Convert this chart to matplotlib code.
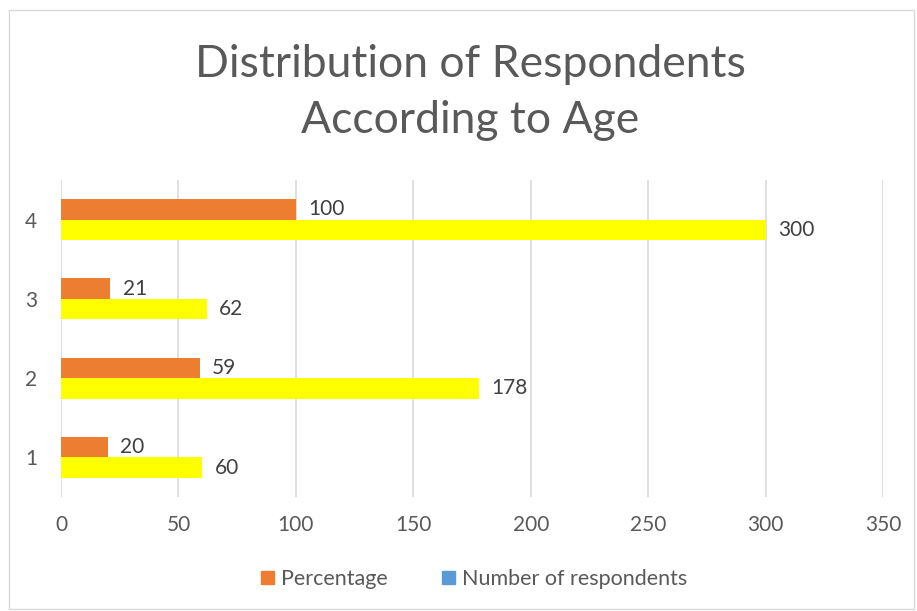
import numpy as np
import matplotlib.pyplot as plt
from matplotlib.patches import Patch, Rectangle

categories = ['1', '2', '3', '4']
percentage = [20, 59, 21, 100]
respondents = [60, 178, 62, 300]
xticks = [0, 50, 100, 150, 200, 250, 300, 350]

orange = '#ED7D31'
yellow = '#FFFF00'
blue = '#5B9BD5'
grey = '#595959'

plt.rcParams['font.family'] = ['Lato', 'DejaVu Sans']

fig = plt.figure(figsize=(9.17, 6.11), dpi=100)
ax = fig.add_axes([0.0665, 0.1866, 0.8965, 0.5188])

y = np.arange(len(categories))
h = 0.26
ax.barh(y + h / 2, percentage, height=h, color=orange, zorder=3)
ax.barh(y - h / 2, respondents, height=h, color=yellow, zorder=3)

# data labels just past the end of each bar
for yi, v in zip(y, percentage):
    ax.annotate(str(v), (v, yi + h / 2), xytext=(9, 0), textcoords='offset points',
                ha='left', va='center', fontsize=15, color='#404040')
for yi, v in zip(y, respondents):
    ax.annotate(str(v), (v, yi - h / 2), xytext=(9, 0), textcoords='offset points',
                ha='left', va='center', fontsize=15, color='#404040')

ax.set_xlim(0, 350)
ax.set_ylim(-0.5, 3.5)
ax.set_xticks(xticks)
ax.set_yticks(y)
ax.set_yticklabels(categories)
ax.tick_params(axis='both', length=0, labelsize=15, labelcolor=grey)
ax.tick_params(axis='x', pad=13)
ax.tick_params(axis='y', pad=17)
ax.grid(axis='x', color='#D9D9D9', linewidth=1.2, zorder=0)
for s in ax.spines.values():
    s.set_visible(False)

fig.text(0.513, 0.849, 'Distribution of Respondents\nAccording to Age', ha='center', va='center',
         fontsize=32, color=grey, linespacing=1.45)

handles = [Patch(color=orange, label='Percentage'),
           Patch(color=blue, label='Number of respondents')]
fig.legend(handles=handles, loc='center', bbox_to_anchor=(0.517, 0.052), ncol=2,
           frameon=False, fontsize=15.5, labelcolor=grey, handlelength=0.6,
           handleheight=0.6, handletextpad=0.35, columnspacing=2.5)

fig.patches.append(Rectangle((9 / 917, 2 / 611), 905 / 917, 599 / 611, transform=fig.transFigure,
                             fill=False, edgecolor='#D9D9D9', linewidth=1))

plt.savefig('out.png', dpi=100)
